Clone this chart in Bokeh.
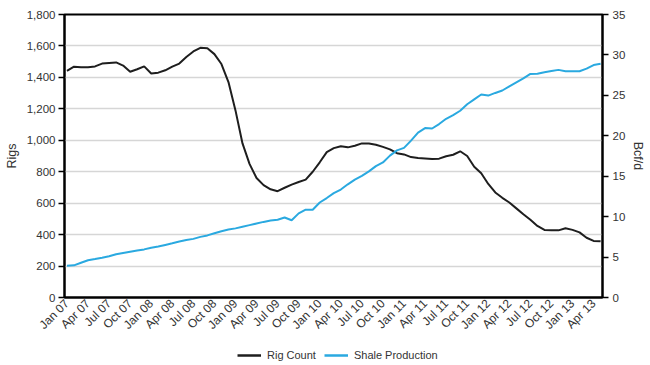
import math
from bokeh.plotting import figure
from bokeh.layouts import column
from bokeh.models import Range1d, LinearAxis, FixedTicker, Legend, LegendItem, ColumnDataSource
from bokeh.embed import file_html
from bokeh.resources import INLINE

# ---- data -------------------------------------------------------------
# month index 0 = Jan 07 ... 76 = May 13
month_index = list(range(77))
tick_positions = list(range(0, 76, 3))
tick_labels = ["Jan 07", "Apr 07", "Jul 07", "Oct 07",
               "Jan 08", "Apr 08", "Jul 08", "Oct 08",
               "Jan 09", "Apr 09", "Jul 09", "Oct 09",
               "Jan 10", "Apr 10", "Jul 10", "Oct 10",
               "Jan 11", "Apr 11", "Jul 11", "Oct 11",
               "Jan 12", "Apr 12", "Jul 12", "Oct 12",
               "Jan 13", "Apr 13"]

rig_count = [1442, 1468, 1465, 1465, 1470, 1488, 1492, 1495, 1475, 1436,
             1452, 1470, 1425, 1430, 1445, 1468, 1488, 1530, 1565, 1588,
             1585, 1548, 1485, 1370, 1190, 980, 850, 760, 715, 688,
             676, 698, 718, 735, 750, 800, 860, 925, 950, 962,
             955, 965, 980, 980, 972, 958, 942, 918, 910, 893,
             887, 884, 881, 883, 898, 908, 930, 900, 832, 790,
             722, 668, 634, 604, 567, 530, 494, 455, 430, 427,
             427, 440, 430, 414, 380, 360, 357]

shale_production = [3.92, 3.98, 4.3, 4.6, 4.75, 4.92, 5.1, 5.35, 5.5, 5.65,
                    5.8, 5.95, 6.15, 6.3, 6.5, 6.7, 6.92, 7.1, 7.25, 7.5,
                    7.68, 7.95, 8.2, 8.4, 8.55, 8.75, 8.95, 9.15, 9.35, 9.52,
                    9.62, 9.9, 9.55, 10.4, 10.86, 10.86, 11.75, 12.3, 12.9, 13.35,
                    14.0, 14.58, 15.05, 15.6, 16.25, 16.7, 17.55, 18.2, 18.5, 19.4,
                    20.4, 20.95, 20.9, 21.45, 22.1, 22.55, 23.1, 23.9, 24.5, 25.1,
                    24.97, 25.3, 25.6, 26.1, 26.6, 27.1, 27.65, 27.66, 27.85, 28.0,
                    28.15, 27.98, 27.98, 27.98, 28.3, 28.75, 28.9]

left_ticks = list(range(0, 1801, 200))
right_ticks = list(range(0, 36, 5))
series_names = ["Rig Count", "Shale Production"]
series_colors = ["#1e1e1e", "#2aa9e0"]

FONT = "Liberation Sans"
TXT = "#333333"

p = figure(width=648, height=347, output_backend="svg", toolbar_location=None,
           x_range=Range1d(-0.35, 76.27), y_range=Range1d(0, 1800),
           min_border_left=64, min_border_right=42, min_border_top=14, min_border_bottom=50)
p.extra_y_ranges = {"bcf": Range1d(0, 35)}

src = ColumnDataSource(dict(m=month_index, rigs=rig_count, shale=shale_production))

p.line("m", "rigs", source=src, line_color=series_colors[0], line_width=2)
p.line("m", "shale", source=src, y_range_name="bcf", line_color=series_colors[1], line_width=2)

# frame
p.outline_line_color = "black"
p.outline_line_width = 2
p.xgrid.grid_line_color = None
p.ygrid.grid_line_color = "#d6d6d6"
p.ygrid.grid_line_width = 1.5
p.ygrid.ticker = FixedTicker(ticks=left_ticks)

# x axis
xa = p.xaxis[0]
xa.ticker = FixedTicker(ticks=tick_positions)
xa.major_label_overrides = {t: l for t, l in zip(tick_positions, tick_labels)}
xa.major_label_orientation = math.pi / 4
xa.major_tick_out = 0
xa.major_tick_in = 0
xa.minor_tick_out = 0
xa.minor_tick_in = 0
xa.axis_line_color = "black"
xa.axis_line_width = 2
xa.major_label_text_font = FONT
xa.major_label_text_font_size = "12px"
xa.major_label_text_color = TXT
xa.major_label_standoff = 4

# left axis
ya = p.yaxis[0]
ya.ticker = FixedTicker(ticks=left_ticks)
ya.major_label_overrides = {t: f"{t:,}" for t in left_ticks}
ya.axis_label = "Rigs"
ya.axis_label_text_font = FONT
ya.axis_label_text_font_style = "normal"
ya.axis_label_text_font_size = "12.5px"
ya.axis_label_text_color = TXT
ya.axis_label_standoff = 5
ya.major_label_text_font = FONT
ya.major_label_text_font_size = "11.5px"
ya.major_label_text_color = TXT
ya.major_label_standoff = 3
ya.major_tick_out = 6
ya.major_tick_in = 0
ya.minor_tick_out = 0
ya.minor_tick_in = 0
ya.axis_line_color = "black"
ya.axis_line_width = 2
ya.major_tick_line_width = 1.5

# right axis
ra = LinearAxis(y_range_name="bcf", ticker=FixedTicker(ticks=right_ticks))
ra.axis_label = "Bcf/d"
ra.axis_label_text_font = FONT
ra.axis_label_text_font_style = "normal"
ra.axis_label_text_font_size = "12.5px"
ra.axis_label_text_color = TXT
ra.axis_label_standoff = 3
ra.major_label_text_font = FONT
ra.major_label_text_font_size = "11.5px"
ra.major_label_text_color = TXT
ra.major_label_standoff = 4
ra.major_tick_out = 6
ra.major_tick_in = 0
ra.minor_tick_out = 0
ra.minor_tick_in = 0
ra.axis_line_color = "black"
ra.axis_line_width = 2
ra.major_tick_line_width = 1.5
p.add_layout(ra, "right")

# legend strip below the chart (its lines sit outside its visible range)
lg = figure(width=648, height=16, output_backend="svg", toolbar_location=None,
            x_range=Range1d(0, 1), y_range=Range1d(0, 1),
            x_axis_type=None, y_axis_type=None, min_border=0)
lg.outline_line_color = None
lg.xgrid.grid_line_color = None
lg.ygrid.grid_line_color = None
items = []
for name, col in zip(series_names, series_colors):
    r = lg.line(x=[5, 6], y=[5, 5], line_color=col, line_width=2.5)
    items.append(LegendItem(label=name, renderers=[r]))
legend = Legend(items=items, orientation="horizontal", location=(173, 2),
                label_text_font=FONT, label_text_font_size="11px", label_text_color=TXT,
                glyph_width=24, glyph_height=12, label_standoff=6, spacing=8,
                padding=0, margin=0, border_line_color=None, background_fill_alpha=0,
                label_height=12)
lg.add_layout(legend, "center")

layout = column(p, lg, spacing=0)
open("out.html", "w").write(file_html(layout, INLINE))
